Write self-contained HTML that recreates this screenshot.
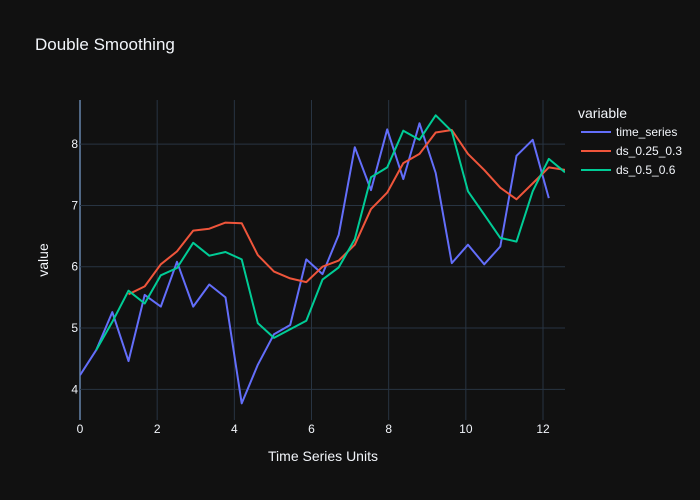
<!DOCTYPE html>
<html><head><meta charset="utf-8"><style>
body{margin:0;background:#111111;}
svg{display:block;font-family:"Liberation Sans",Arial,sans-serif;}
</style></head><body>
<svg id="chart" width="700" height="500">
<rect width="700" height="500" fill="#111111"/>
<defs><clipPath id="clip"><rect x="80" y="100" width="485" height="320"/></clipPath></defs>
<g id="grid"></g>
<g id="series" clip-path="url(#clip)"></g>
<g id="ticks"></g>
<text x="35" y="50" fill="#f2f5fa" font-size="17">Double Smoothing</text>
<text x="323" y="461" fill="#f2f5fa" font-size="14" text-anchor="middle">Time Series Units</text>
<text transform="translate(48,260) rotate(-90)" fill="#f2f5fa" font-size="14" text-anchor="middle">value</text>
<g id="legend">
<text x="578" y="118" fill="#f2f5fa" font-size="14">variable</text>
</g>
</svg>
<script>
const xStep = 0.419;
const seriesNames = ["time_series", "ds_0.25_0.3", "ds_0.5_0.6"];
const seriesStart = [0, 3, 1];
const timeSeries = [4.23,4.64,5.26,4.46,5.54,5.35,6.08,5.35,5.71,5.50,3.77,4.40,4.90,5.05,6.12,5.88,6.52,7.95,7.25,8.24,7.43,8.34,7.53,6.06,6.36,6.04,6.33,7.81,8.07,7.12];
const ds025 = [5.55,5.68,6.04,6.25,6.59,6.62,6.72,6.71,6.19,5.92,5.81,5.75,6.00,6.10,6.36,6.94,7.21,7.69,7.84,8.19,8.23,7.84,7.58,7.29,7.10,7.36,7.62,7.58];
const ds05 = [4.64,5.10,5.61,5.40,5.86,5.98,6.39,6.18,6.24,6.12,5.08,4.84,4.98,5.12,5.79,5.99,6.45,7.46,7.62,8.22,8.07,8.47,8.21,7.23,6.85,6.47,6.41,7.23,7.76,7.54];
const xTicks = [0,2,4,6,8,10,12];
const yTicks = [4,5,6,7,8];
const colors = ["#636efa","#EF553B","#00cc96"];
const NS="http://www.w3.org/2000/svg";
const X0=80,X1=565,Y0=420,Y1=100,xmin=0,xmax=12.57,ymin=3.5,ymax=8.72;
const xs=v=>X0+(v-xmin)/(xmax-xmin)*(X1-X0);
const ys=v=>Y0-(v-ymin)/(ymax-ymin)*(Y0-Y1);
function mk(t,a,p){const e=document.createElementNS(NS,t);for(const k in a)e.setAttribute(k,a[k]);p.appendChild(e);return e;}
const grid=document.getElementById('grid'),ticks=document.getElementById('ticks');
xTicks.forEach(t=>{
 const l=mk('line',{x1:xs(t),x2:xs(t),y1:Y1,y2:Y0,stroke:t===0?'#506784':'#283442','stroke-width':t===0?2:1},grid);
 
 
 const tx=mk('text',{x:xs(t),y:433,fill:'#f2f5fa','font-size':12,'text-anchor':'middle'},ticks);
 tx.textContent=t;
 
 
});
yTicks.forEach(t=>{
 const l=mk('line',{x1:X0,x2:X1,y1:ys(t),y2:ys(t),stroke:'#283442','stroke-width':1},grid);
 
 
 const tx=mk('text',{x:X0-2-0,y:ys(t)+4,fill:'#f2f5fa','font-size':12,'text-anchor':'end'},ticks);
 tx.setAttribute('x',X0-2);
 tx.textContent=t;
 
 
});
const data=[timeSeries,ds025,ds05];
const sg=document.getElementById('series'),lg=document.getElementById('legend');
data.forEach((arr,si)=>{
 const pts=arr.map((v,i)=>xs((seriesStart[si]+i)*xStep).toFixed(1)+','+ys(v).toFixed(1)).join(' ');
 const pl=mk('polyline',{points:pts,fill:'none',stroke:colors[si],'stroke-width':2,'stroke-linejoin':'round'},sg);
 
 
 const y=132+si*19;
 const ll=mk('line',{x1:581,x2:611,y1:y,y2:y,stroke:colors[si],'stroke-width':2},lg);
 
 
 const lt=mk('text',{x:616,y:y+4,fill:'#f2f5fa','font-size':12},lg);
 lt.textContent=seriesNames[si];
 
 
});
</script>
</body></html>
